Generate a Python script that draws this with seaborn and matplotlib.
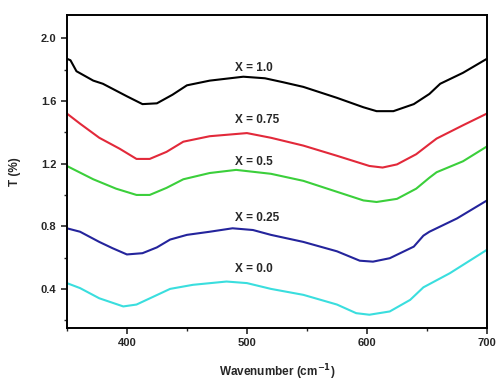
import matplotlib
matplotlib.use("Agg")
import matplotlib.pyplot as plt
import seaborn as sns
from matplotlib.ticker import MultipleLocator

# wavenumber / transmittance traces
black_x = [350, 353, 358, 372, 380, 400, 413, 425, 438, 450, 469, 497, 515, 530, 547, 575, 597, 608, 622, 639, 652, 661, 680, 700]
black_y = [1.87, 1.86, 1.79, 1.73, 1.71, 1.63, 1.58, 1.585, 1.64, 1.70, 1.73, 1.755, 1.745, 1.72, 1.69, 1.62, 1.56, 1.535, 1.535, 1.58, 1.645, 1.71, 1.78, 1.87]

red_x = [350, 361, 377, 394, 408, 419, 433, 447, 469, 500, 520, 547, 575, 602, 613, 625, 641, 652, 658, 680, 700]
red_y = [1.52, 1.455, 1.365, 1.295, 1.23, 1.23, 1.275, 1.34, 1.375, 1.395, 1.365, 1.315, 1.25, 1.185, 1.175, 1.195, 1.26, 1.325, 1.36, 1.445, 1.52]

green_x = [350, 372, 391, 408, 419, 433, 447, 469, 491, 520, 547, 575, 597, 608, 625, 641, 652, 658, 680, 700]
green_y = [1.185, 1.10, 1.04, 1.0, 1.0, 1.045, 1.10, 1.14, 1.16, 1.135, 1.09, 1.02, 0.965, 0.955, 0.975, 1.04, 1.11, 1.145, 1.215, 1.31]

blue_x = [350, 361, 377, 388, 400, 413, 425, 436, 450, 469, 488, 505, 520, 547, 575, 594, 605, 619, 639, 647, 652, 675, 700]
blue_y = [0.787, 0.765, 0.70, 0.66, 0.62, 0.628, 0.665, 0.715, 0.745, 0.765, 0.787, 0.776, 0.745, 0.70, 0.64, 0.58, 0.574, 0.596, 0.67, 0.74, 0.765, 0.85, 0.965]

cyan_x = [350, 361, 377, 397, 408, 422, 436, 455, 483, 500, 520, 547, 575, 591, 602, 619, 636, 647, 669, 700]
cyan_y = [0.437, 0.405, 0.34, 0.288, 0.30, 0.35, 0.40, 0.426, 0.447, 0.437, 0.40, 0.362, 0.30, 0.245, 0.235, 0.256, 0.33, 0.41, 0.50, 0.65]

labels = ["X = 1.0", "X = 0.75", "X = 0.5", "X = 0.25", "X = 0.0"]
label_y = [1.81, 1.48, 1.21, 0.85, 0.53]

series = [
    (black_x, black_y, "black"),
    (red_x, red_y, "#e2293a"),
    (green_x, green_y, "#3bcf3b"),
    (blue_x, blue_y, "#24249c"),
    (cyan_x, cyan_y, "#3adede"),
]

sns.set_style("ticks")
plt.rcParams["font.family"] = ["Liberation Sans", "DejaVu Sans"]
plt.rcParams["font.weight"] = "bold"

fig = plt.figure(figsize=(4.99, 3.81), dpi=100)
ax = fig.add_axes([0.134, 0.139, 0.842, 0.822])

for (xs, ys, c) in series:
    sns.lineplot(x=xs, y=ys, color=c, linewidth=1.5, ax=ax, sort=False)

for lab, ly in zip(labels, label_y):
    ax.text(490, ly, lab, fontsize=8.5, fontweight="bold", va="center", ha="left")

ax.set_xlim(350, 700)
ax.set_ylim(0.15, 2.15)
ax.xaxis.set_major_locator(MultipleLocator(100))
ax.xaxis.set_minor_locator(MultipleLocator(50))
ax.yaxis.set_major_locator(MultipleLocator(0.4))
ax.yaxis.set_minor_locator(MultipleLocator(0.2))
ax.tick_params(which="major", direction="out", length=4, width=1.2, labelsize=8)
ax.tick_params(which="minor", direction="out", length=2.5, width=1.0)
for lbl in ax.get_xticklabels() + ax.get_yticklabels():
    lbl.set_fontweight("bold")
for sp in ax.spines.values():
    sp.set_visible(True)
    sp.set_linewidth(1.4)
    sp.set_color("black")

ax.set_xlabel("Wavenumber (cm$^{-1}$)", fontsize=8.5, fontweight="bold", labelpad=10)
ax.set_ylabel("T (%)", fontsize=8.5, fontweight="bold", labelpad=14)

fig.savefig("out.png", dpi=100)
